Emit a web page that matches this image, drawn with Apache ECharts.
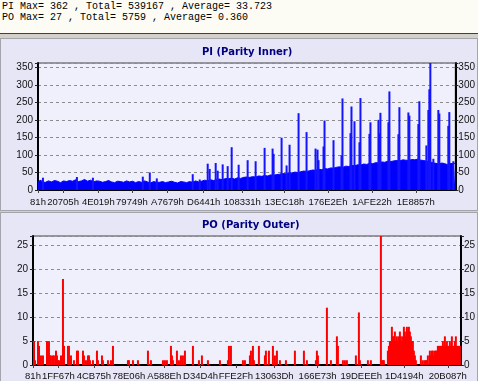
<!DOCTYPE html>
<html><head><meta charset="utf-8">
<script src="https://cdn.jsdelivr.net/npm/echarts@6/dist/echarts.min.js"></script>
<style>
html,body{margin:0;padding:0;width:478px;height:381px;overflow:hidden;background:#d4d0c8;}
#hdr{position:absolute;left:0;top:0;width:478px;height:34px;background:#fcfcf4;border-bottom:1px solid #404040;font:10px/11px 'Liberation Mono',monospace;color:#000;padding:1px 0 0 2px;box-sizing:border-box;white-space:pre;}
.panel{position:absolute;left:0;width:476px;background:#e6e6f6;border:1px solid #a4a4ac;}
#p1{top:38px;height:171px;}
#p2{top:212px;height:168px;}
#chart{position:absolute;left:0;top:0;width:478px;height:381px;}
</style></head>
<body>
<div id="hdr"></div>
<div class="panel" id="p1"></div>
<div class="panel" id="p2"></div>
<div id="chart"></div>
<script>
// ---- data ----
const headerLines = [
  'PI Max= 362 , Total= 539167 , Average= 33.723',
  'PO Max= 27 , Total= 5759 , Average= 0.360'
];
const piTitle = 'PI (Parity Inner)';
const poTitle = 'PO (Parity Outer)';
const lbaMin = 0x81;
const lbaMax = 2210000;
const piTickLabels = ['81h','20705h','4E019h','79749h','A7679h','D6441h','108331h','13EC18h','176E2Eh','1AFE22h','1E8857h'];
const poTickLabels = ['81h','1FF67h','4CB75h','78E06h','A588Eh','D34D4h','FFE2Fh','13063Dh','166E73h','19DEEEh','1D4194h','20B087h'];
const piYMax = 362, piYStep = 50;
const poYMax = 27, poYStep = 5;

// PI background level, evenly sampled across the disc
const piBase = [
  24,28,22,26,23,27,25,21,26,24,
  27,25,29,24,26,30,25,28,23,26,
  25,22,24,27,23,21,25,24,22,26,
  23,25,21,24,22,26,23,20,24,22,
  22,24,21,23,25,22,20,24,23,21,
  24,22,26,23,25,28,26,29,27,30,
  31,29,33,32,34,31,35,33,36,37,
  36,38,37,40,39,41,40,43,42,44,
  45,47,46,49,48,51,50,52,54,53,
  55,57,56,59,58,61,60,63,62,65,
  66,64,68,67,70,69,72,71,74,73,
  76,75,78,77,80,79,82,81,83,84,
  83,86,85,84,87,86,88,85,84,82,
  80,78,76,74,77,75,72,76,74,78
];
// PI spikes [LBA, value]
const piSpikes = [
  [26400,35],[206200,37],[290800,35],[555100,38],[592100,50],[629200,33],
  [819500,45],[856500,30],[898800,75],[909400,60],[941100,77],[951700,55],
  [978100,73],[1004500,68],[1025700,122],[1062700,72],[1110300,85],[1152600,82],
  [1200100,120],[1242400,118],[1247700,103],[1290000,149],[1316500,70],[1332300,129],
  [1379900,219],[1422200,165],[1469800,118],[1480400,115],[1485600,85],[1512100,124],
  [1517400,198],[1565000,142],[1607200,99],[1612500,261],[1654800,162],[1660100,238],
  [1676000,196],[1702400,136],[1707700,262],[1755300,160],[1760600,193],[1802900,200],
  [1808200,162],[1813400,220],[1855700,193],[1861000,281],[1908600,159],[1913900,236],
  [1961500,221],[1966800,212],[2014300,188],[2019600,253],[2056600,127],[2067200,228],
  [2072500,287],[2077800,362],[2093700,89],[2120100,228],[2125400,218],[2172900,183],
  [2178200,222],[2199400,82]
];
// PO errors [LBA, value]
const poBars = [
  [5200,5],[10300,1],[25800,5],[31000,4],[41300,2],[51600,2],[72300,5],[82600,5],
  [87800,2],[92900,2],[103300,2],[108400,2],[118800,3],[123900,2],[129100,1],[134300,1],
  [144600,2],[154900,18],[160100,4],[180700,4],[185900,4],[196200,2],[211700,1],[227200,3],
  [232400,3],[258200,3],[263300,2],[273700,1],[284000,2],[289200,2],[294300,1],[309800,1],
  [330500,3],[335600,1],[356300,2],[361400,1],[387300,1],[402800,1],[413100,4],[490500,1],
  [495700,1],[516400,1],[542200,1],[593800,3],[609300,1],[671300,1],[681600,1],[691900,1],
  [712600,4],[717700,2],[722900,1],[743500,3],[753900,1],[764200,2],[774500,2],[784900,3],
  [826200,4],[857100,1],[872600,2],[903600,1],[965600,1],[1006900,1],[1012000,4],[1022400,4],
  [1084300,1],[1094700,1],[1120500,2],[1125600,3],[1136000,4],[1141100,1],[1166900,4],[1197900,2],
  [1203100,3],[1218600,3],[1239200,4],[1249600,2],[1259900,3],[1275400,1],[1306400,1],[1352800,3],
  [1399300,3],[1414800,1],[1461300,1],[1466400,3],[1471600,2],[1518100,12],[1538700,1],[1569700,6],
  [1574900,4],[1600700,1],[1611000,1],[1621300,1],[1667800,2],[1683300,11],[1688500,1],[1729800,1],
  [1745300,1],[1796900,27],[1802100,1],[1807200,1],[1812400,1],
  [1833000,3],[1838200,4],[1843400,5],[1848500,5],[1853700,8],[1858900,6],[1864000,6],[1869200,7],
  [1874300,5],[1879500,6],[1884700,5],[1889800,6],[1895000,7],[1900200,6],[1905300,5],[1910500,6],
  [1915700,8],[1920800,7],[1926000,6],[1931200,8],[1936300,7],[1941500,8],[1946600,7],[1951800,6],
  [1957000,5],[1962100,5],[1967300,3],[1972500,2],[1977600,1],
  [2003400,2],[2013800,1],[2024100,1],[2029300,1],[2034400,1],[2039600,2],[2049900,3],[2055100,2],
  [2060300,3],[2065400,3],[2070600,2],
  [2075700,3],[2080900,3],[2086000,3],[2091200,4],[2096400,4],[2101500,4],[2106700,4],[2111900,4],
  [2117000,5],[2122200,4],[2127400,6],[2132500,4],[2137700,5],[2142800,4],[2148000,4],[2153200,5],
  [2158300,4],[2163500,6],[2168600,4],[2173800,4],[2179000,5],[2184100,6],[2189300,4],[2194500,4],
  [2199600,4],[2204800,4]
];

// ---- render ----
document.getElementById('hdr').textContent = headerLines.join('\n');
const hex = s => parseInt(s.replace('h',''), 16);
const fmtHex = v => Math.round(v).toString(16).toUpperCase() + 'h';
const tickFont = "'Liberation Sans',Arial,sans-serif";
const baseStep = (lbaMax - lbaMin) / (piBase.length - 1);
const piBaseData = piBase.map((v, i) => [lbaMin + i * baseStep, v]);

function xAxisDef(gi, labels, margin) {
  const vals = labels.map(hex);
  return {
    type: 'value', gridIndex: gi, min: lbaMin, max: lbaMax,
    axisLine: {show: true, lineStyle: {color: '#000', width: 2}},
    axisTick: {show: true, customValues: vals, length: 3, lineStyle: {color: '#444'}},
    axisLabel: {customValues: vals, formatter: fmtHex, fontFamily: tickFont, fontSize: 9.5, color: '#111', margin: margin, hideOverlap: false},
    splitLine: {show: false}
  };
}
function yAxisDef(gi, max, step, pos) {
  return {
    type: 'value', gridIndex: gi, min: 0, max: max, interval: step, position: pos,
    axisLine: {show: true, onZero: false, lineStyle: {color: '#000', width: 2}},
    axisTick: {show: true, length: 3, lineStyle: {color: '#222'}},
    axisLabel: {fontFamily: tickFont, fontSize: 10, color: '#111', margin: pos === 'left' ? 5 : 3,
      formatter: v => (v % step === 0 ? String(v) : '')},
    splitLine: {show: pos === 'left', lineStyle: {color: '#8c8c8c', type: [3, 3], width: 1}}
  };
}

const chart = echarts.init(document.getElementById('chart'), null, {renderer: 'canvas'});
chart.setOption({
  animation: false,
  backgroundColor: 'transparent',
  grid: [
    {left: 38, top: 63, width: 418, height: 127, show: true, backgroundColor: '#f0f0fd', borderColor: '#444', borderWidth: 1},
    {left: 33, top: 236, width: 428, height: 129, show: true, backgroundColor: '#f0f0fd', borderColor: '#444', borderWidth: 1}
  ],
  xAxis: [xAxisDef(0, piTickLabels, 7), xAxisDef(1, poTickLabels, 6)],
  yAxis: [
    yAxisDef(0, piYMax, piYStep, 'left'), yAxisDef(0, piYMax, piYStep, 'right'),
    yAxisDef(1, poYMax, poYStep, 'left'), yAxisDef(1, poYMax, poYStep, 'right')
  ],
  graphic: [
    {type: 'text', left: 247 - 45, top: 47, style: {text: piTitle, font: "bold 10px 'DejaVu Sans'", fill: '#000080'}},
    {type: 'text', left: 247 - 45, top: 220, style: {text: poTitle, font: "bold 10px 'DejaVu Sans'", fill: '#000080'}}
  ],
  series: [
    {type: 'line', xAxisIndex: 0, yAxisIndex: 0, data: piBaseData, step: 'middle', symbol: 'none',
      lineStyle: {color: '#0000ff', width: 1}, areaStyle: {color: '#0000ff', opacity: 1}, z: 2},
    {type: 'bar', xAxisIndex: 0, yAxisIndex: 0, data: piSpikes, barWidth: 2,
      itemStyle: {color: '#1414ff'}, z: 3},
    {type: 'bar', xAxisIndex: 1, yAxisIndex: 2, data: poBars, barWidth: 2,
      itemStyle: {color: '#ff0000'}, z: 3}
  ]
});
</script>
</body></html>
